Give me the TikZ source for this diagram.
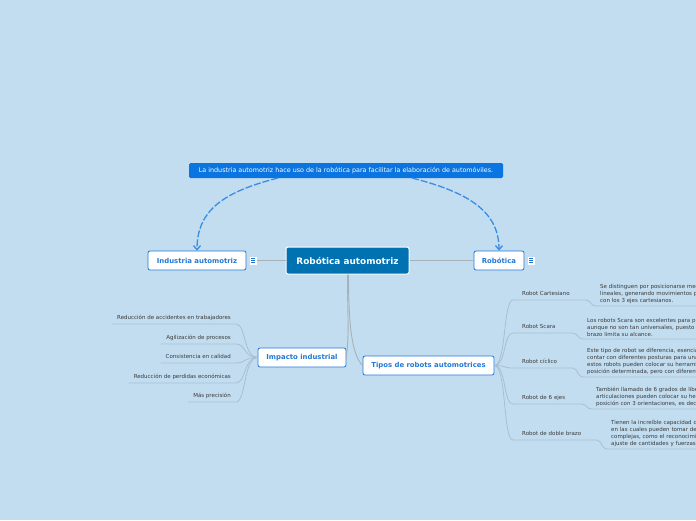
\documentclass[tikz,border=0pt]{standalone}
\usepackage{fontspec}
\setmainfont{DejaVu Sans}
\usetikzlibrary{positioning, arrows.meta}
\definecolor{bgblue}{HTML}{C2DDF0}
\definecolor{bannerblue}{HTML}{0A74E0}
\definecolor{mainblue}{HTML}{0071B1}
\definecolor{topicblue}{HTML}{2278D6}
\definecolor{dashblue}{HTML}{3A8DE2}
\definecolor{linegrey}{HTML}{A7B1B9}
\definecolor{leafgrey}{HTML}{A9BFD0}
\definecolor{leaftext}{HTML}{3A3A3A}

\begin{document}
\begin{tikzpicture}[x=1pt,y=-1pt,
    banner/.style={fill=bannerblue, text=white, rounded corners=1.5pt,
      font=\fontsize{6.4}{7}\selectfont, minimum width=314pt,
      minimum height=15pt, inner sep=0pt},
    central/.style={fill=mainblue, draw=white, line width=1pt,
      rounded corners=2pt, text=white,
      font=\fontsize{8.9}{10}\selectfont\bfseries,
      minimum width=123pt, minimum height=27pt, inner sep=0pt},
    topic/.style={fill=white, draw=topicblue, line width=0.8pt,
      rounded corners=2pt, text=topicblue,
      font=\fontsize{6.9}{8}\selectfont\bfseries,
      minimum height=19pt, inner sep=0pt},
    menuicon/.style={fill=white, minimum width=7pt, minimum height=8pt,
      inner sep=0pt},
    leaf/.style={text=leaftext, font=\fontsize{5.5}{6.8}\selectfont,
      text height=3.9pt, text depth=1pt, inner ysep=3pt, inner xsep=5pt},
    robot/.style={leaf, align=left, inner xsep=9pt, anchor=south west},
    desc/.style={text=leaftext, font=\fontsize{5.5}{6.8}\selectfont,
      align=left, text width=220pt, inner xsep=4pt, inner ysep=2.5pt,
      anchor=south west},
    dasharrow/.style={dashblue, line width=1.3pt, dash pattern=on 7pt off 2pt,
      -{Straight Barb[length=4pt,width=7pt,line width=1.3pt]}},
    greyline/.style={linegrey, line width=0.9pt},
    twig/.style={leafgrey, line width=0.8pt}]

  % background and frame
  \fill[bgblue] (0,0) rectangle (696,520);
  \useasboundingbox (0,0) rectangle (696,520);
  \clip (0,0) rectangle (696,520);

  % main topics
  \node[banner] (banner) at (346,170.5) {La industria automotriz hace uso de la robótica para facilitar la elaboración de automóviles.};
  \node[central] (main) at (347.5,260.5) {Robótica automotriz};
  \node[topic, minimum width=98pt] (ind) at (197,260.5) {Industria automotriz};
  \node[menuicon] (indicon) [right=3pt of ind] {};
  \node[topic, minimum width=50pt] (rob) at (499,260.5) {Robótica};
  \node[menuicon] (robicon) [right=3pt of rob] {};
  \node[topic, minimum width=88pt] (imp) at (302,357.5) {Impacto industrial};
  \node[topic, minimum width=131pt] (tipos) at (428.5,365.5) {Tipos de robots automotrices};

  \foreach \n in {indicon, robicon}
    \foreach \d in {-2,0,2}
      \draw[topicblue, line width=0.7pt] ([xshift=-2pt,yshift=\d pt]\n.center) -- ++(4,0);

  % relations from the banner
  \coordinate (bleft) at (278,178);
  \coordinate (bright) at (412,178);
  \draw[dasharrow] (bleft) .. controls +(-55,14) and +(0,-40) .. (ind.north);
  \draw[dasharrow] (bright) .. controls +(55,14) and +(0,-40) .. (rob.north);

  % main branches
  \path[greyline]
    (indicon) edge (main)
    (main) edge (rob);
  \draw[greyline] (main.south) .. controls +(0,50) and +(3,-30) .. (imp.east);
  \draw[greyline] ([xshift=1pt]main.south) .. controls +(0,55) and +(-10,-10) .. (tipos.west);

  % impacto industrial
  \node[leaf, anchor=south east] (i1) at (236,324) {Reducción de accidentes en trabajadores};
  \node[leaf, anchor=south east] (i2) at (236,344) {Agilización de procesos};
  \node[leaf, anchor=south east] (i3) at (236,363) {Consistencia en calidad};
  \node[leaf, anchor=south east] (i4) at (236,383) {Reducción de perdidas económicas};
  \node[leaf, anchor=south east] (i5) at (236,402) {Más precisión};
  \foreach \i in {i1,i2,i3,i4,i5}
    \draw[twig] (imp.west) .. controls +(-14,0) and +(10,0) .. (\i.south east) -- (\i.south west);

  % tipos de robots
  \node[robot, text width=54pt] (r1) at (513,300) {Robot Cartesiano};
  \node[robot, text width=41pt] (r2) at (513,333) {Robot Scara};
  \node[robot, text width=41pt] (r3) at (513,368) {Robot cíclico};
  \node[robot, text width=50pt] (r4) at (513,404) {Robot de 6 ejes};
  \node[robot, text width=65pt] (r5) at (513,440) {Robot de doble brazo};

  \node[desc] (d1) at (596,306) {Se distinguen por posicionarse mediante\\lineales, generando movimientos precisos\\con los 3 ejes cartesianos.};
  \node[desc] (d2) at (583,339) {Los robots Scara son excelentes para precisión\\aunque no son tan universales, puesto que\\brazo limita su alcance.};
  \node[desc] (d3) at (583,377) {Este tipo de robot se diferencia, esencialmente\\contar con diferentes posturas para una\\estos robots pueden colocar su herramienta\\posición determinada, pero con diferentes};
  \node[desc] (d4) at (592,409) {También llamado de 6 grados de libertad\\articulaciones pueden colocar su herramienta\\posición con 3 orientaciones, es decir};
  \node[desc] (d5) at (607,449) {Tienen la increíble capacidad de\\en las cuales pueden tomar decisiones\\complejas, como el reconocimiento\\ajuste de cantidades y fuerzas};

  \foreach \r/\d in {r1/d1, r2/d2, r3/d3, r4/d4, r5/d5}
    \draw[twig] (tipos.east) .. controls +(12,0) and +(-10,0) .. (\r.south west)
      -- (\r.south east) .. controls +(6,0) and +(-6,0) .. (\d.south west) -- (\d.south east);
\end{tikzpicture}
\end{document}
